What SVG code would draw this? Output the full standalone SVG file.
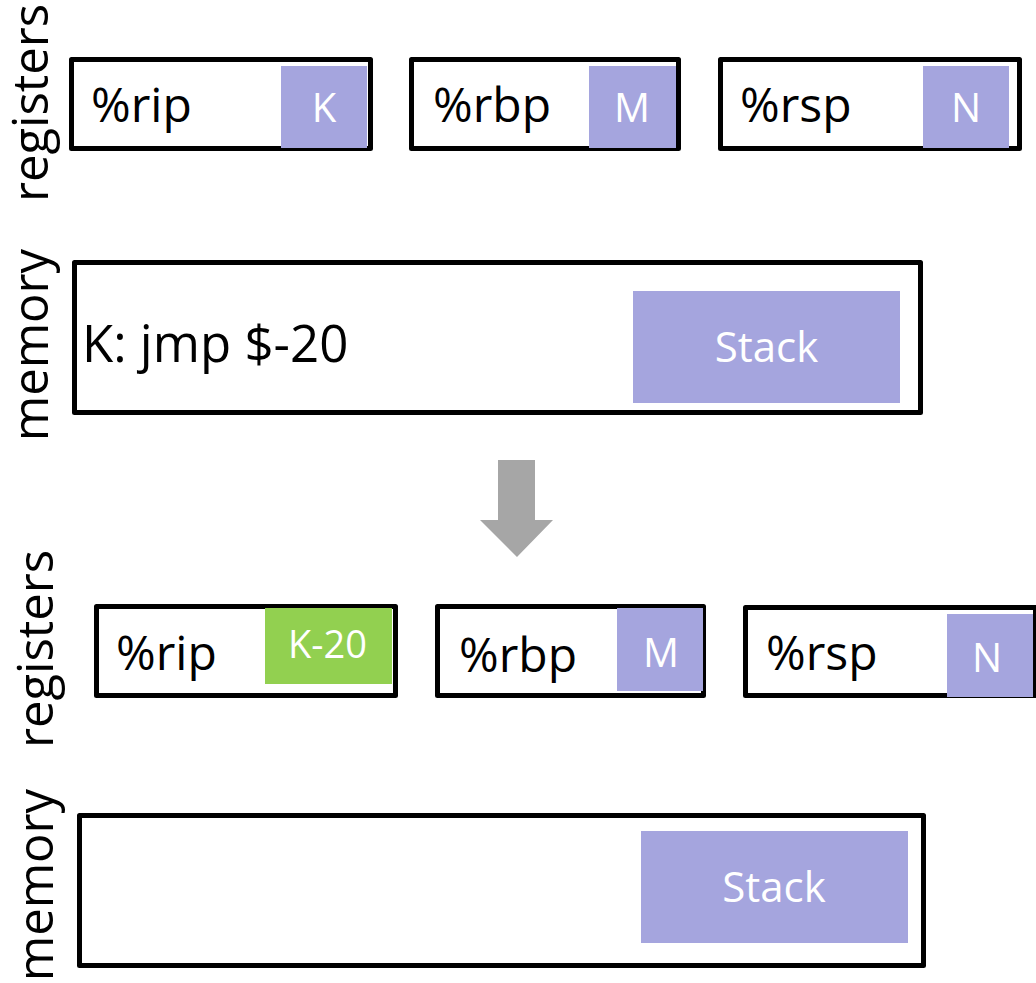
<svg xmlns="http://www.w3.org/2000/svg" width="1036" height="983" viewBox="0 0 1036 983">
  <style>
    text { font-family: "Open Sans", "Noto Sans", "Liberation Sans", sans-serif; }
    .box { fill: #ffffff; stroke: #000000; stroke-width: 5; stroke-linejoin: round; }
    .val { fill: #a5a5de; }
    .chg { fill: #92d050; }
    .name { font-size: 48px; fill: #000000; }
    .code { font-size: 51px; fill: #000000; }
    .side { font-size: 49px; fill: #000000; text-anchor: middle; }
    .v { font-size: 40px; fill: #ffffff; text-anchor: middle; }
    .stk { font-size: 42px; fill: #ffffff; text-anchor: middle; }
    .step { fill: #a6a6a6; }
  </style>

  <!-- side labels -->
  <g id="labels">
    <text class="side" transform="translate(48,103) rotate(-90)">registers</text>
    <text class="side" transform="translate(48,345) rotate(-90)">memory</text>
    <text class="side" transform="translate(53,649) rotate(-90)">registers</text>
    <text class="side" transform="translate(53,885) rotate(-90)">memory</text>
  </g>

  <!-- state before: registers -->
  <g id="rip-before">
    <rect class="box" x="71.5" y="59.5" width="299" height="89"/>
    <rect class="val" x="281" y="66" width="86" height="82"/>
    <text class="name" x="91" y="122">%rip</text>
    <text class="v" x="324" y="122">K</text>
  </g>
  <g id="rbp-before">
    <rect class="box" x="411.5" y="59.5" width="267" height="89"/>
    <rect class="val" x="589" y="66" width="87" height="82"/>
    <text class="name" x="433" y="122">%rbp</text>
    <text class="v" x="632" y="122">M</text>
  </g>
  <g id="rsp-before">
    <rect class="box" x="720.5" y="59.5" width="299" height="89"/>
    <rect class="val" x="923" y="66" width="86" height="82"/>
    <text class="name" x="740" y="122">%rsp</text>
    <text class="v" x="966" y="122">N</text>
  </g>

  <!-- state before: memory -->
  <g id="memory-before">
    <rect class="box" x="74.5" y="262.5" width="846" height="150"/>
    <rect class="val" x="633" y="291" width="267" height="112"/>
    <text class="code" x="82" y="362">K: jmp $-20</text>
    <text class="stk" x="766.5" y="362">Stack</text>
  </g>

  <!-- step arrow -->
  <g id="connectors">
    <polygon class="step" points="498,460 535,460 535,520 553,520 517,557 480,520 498,520"/>
  </g>

  <!-- state after: registers -->
  <g id="rip-after">
    <rect class="box" x="96.5" y="606.5" width="299" height="89"/>
    <rect class="chg" x="265" y="608" width="127" height="76"/>
    <text class="name" x="116" y="670">%rip</text>
    <text class="v" x="327.5" y="658" style="font-size:38px">K-20</text>
  </g>
  <g id="rbp-after">
    <rect class="box" x="437.5" y="606.5" width="266" height="89"/>
    <rect class="val" x="617" y="608" width="86" height="83"/>
    <text class="name" x="459" y="672">%rbp</text>
    <text class="v" x="661" y="667">M</text>
  </g>
  <g id="rsp-after">
    <rect class="box" x="745.5" y="607.5" width="290" height="88"/>
    <rect class="val" x="947" y="614" width="86" height="83"/>
    <text class="name" x="766" y="670">%rsp</text>
    <text class="v" x="987" y="672">N</text>
  </g>

  <!-- state after: memory -->
  <g id="memory-after">
    <rect class="box" x="79.5" y="815.5" width="844" height="150"/>
    <rect class="val" x="641" y="831" width="267" height="112"/>
    <text class="stk" x="774" y="902">Stack</text>
  </g>
</svg>
